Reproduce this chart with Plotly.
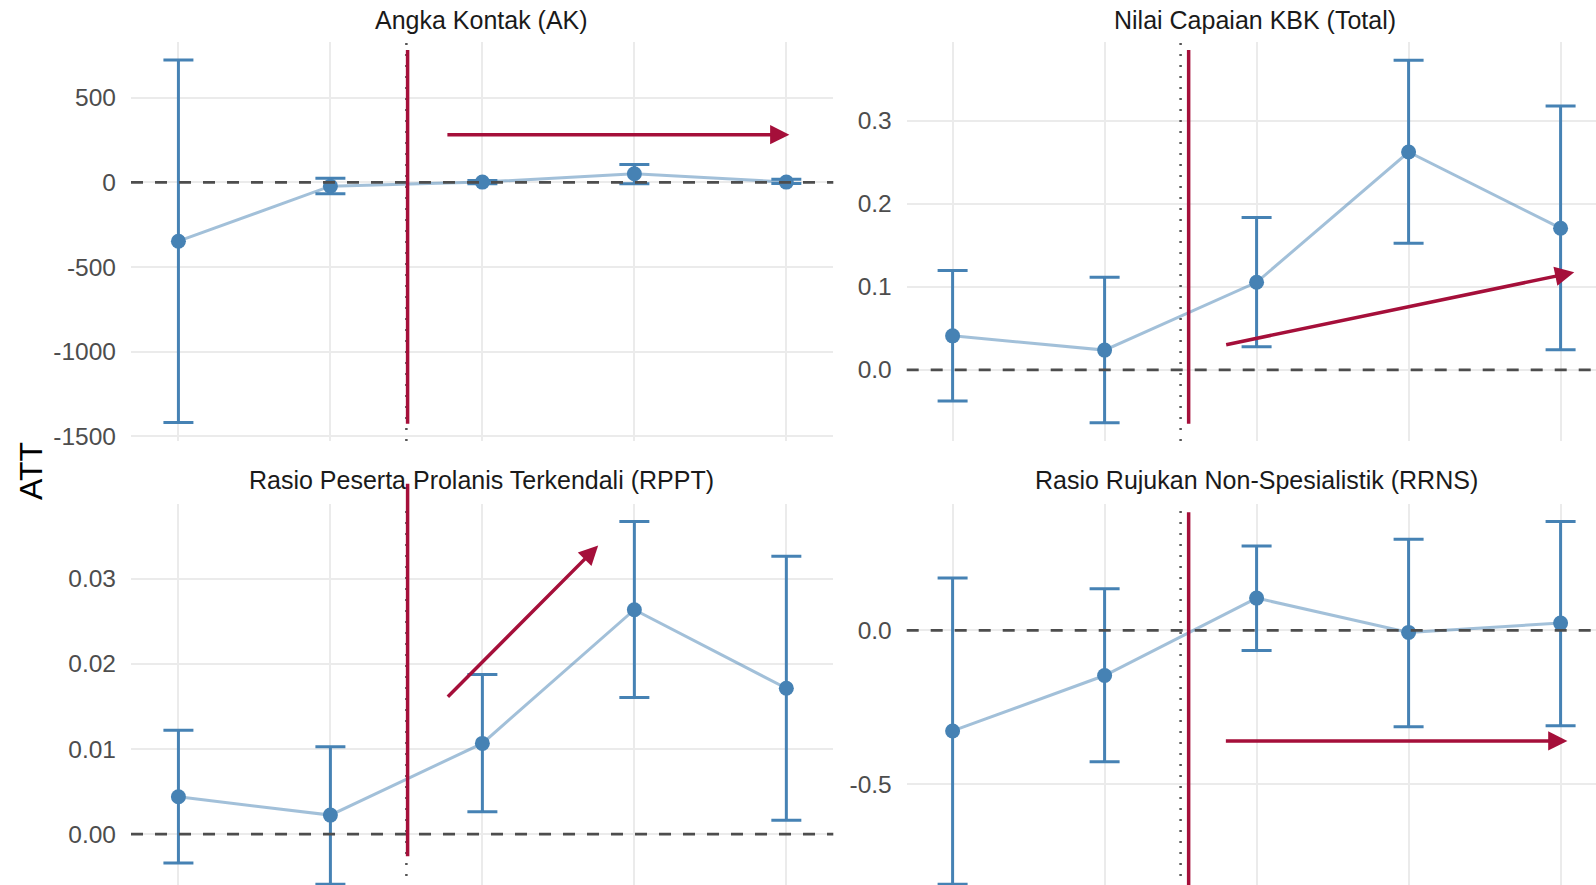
import plotly.graph_objects as go

# ---------------- data ----------------
periods = [1, 2, 3, 4, 5]

titles = [
    "Angka Kontak (AK)",
    "Nilai Capaian KBK (Total)",
    "Rasio Peserta Prolanis Terkendali (RPPT)",
    "Rasio Rujukan Non-Spesialistik (RRNS)",
]

ak_att = [-347, -22, 2, 51, 2]
ak_lo = [-1418, -67, -8, -8, -6]
ak_hi = [722, 25, 12, 106, 18]

kbk_att = [0.041, 0.0238, 0.1055, 0.2625, 0.1707]
kbk_lo = [-0.0374, -0.0636, 0.0278, 0.1525, 0.0242]
kbk_hi = [0.1196, 0.1115, 0.1836, 0.3732, 0.318]

rppt_att = [0.00439, 0.00224, 0.01066, 0.02635, 0.01713]
rppt_lo = [-0.00338, -0.00588, 0.00262, 0.01604, 0.00165]
rppt_hi = [0.01219, 0.01027, 0.01874, 0.0367, 0.03262]

rrns_att = [-0.3264, -0.1464, 0.105, -0.0065, 0.0238]
rrns_lo = [-0.824, -0.4263, -0.0651, -0.3124, -0.3091]
rrns_hi = [0.170, 0.1356, 0.2744, 0.2961, 0.3537]

tick_vals = [
    [-1500, -1000, -500, 0, 500],
    [0.0, 0.1, 0.2, 0.3],
    [0.00, 0.01, 0.02, 0.03],
    [-0.5, 0.0],
]
tick_text = [
    ["-1500", "-1000", "-500", "0", "500"],
    ["0.0", "0.1", "0.2", "0.3"],
    ["0.00", "0.01", "0.02", "0.03"],
    ["-0.5", "0.0"],
]

# arrows (tail x, tail y, head x, head y) in data units
arrows = [
    (2.76, 282, 5.02, 282),
    (2.79, 0.030, 5.09, 0.1175),
    (2.763, 0.01595, 3.762, 0.03388),
    (2.788, -0.359, 5.045, -0.359),
]

treat_x = 2.5
red_x = [2.508, 2.553, 2.508, 2.553]

# ---------------- layout geometry ----------------
W = 1596
REF_H = 885           # reference picture height (positions below are in its pixels)
H = 896               # rendered height (the capture compresses slightly vertically)
def px_x(p):
    return p / W
def px_y(p):
    return 1 - p / REF_H

xdom = [[px_x(131), px_x(833.3)], [px_x(906.7), 1.0]]
ydom = [[px_y(440), px_y(41.7)], [0.0, px_y(503.3)]]
yranges = [[-1526.6, 830.2], [-0.0857, 0.3953], [-0.0062, 0.03871], [-0.833, 0.409]]
xranges = [[0.688, 5.309], [0.698, 5.233], [0.688, 5.309], [0.698, 5.233]]
title_pos = [(481.7, 20), (1255.4, 20), (481.7, 479.3), (1256, 479.3)]
red_span = [(50, 422.7), (50, 422.7), (482.7, 854.3), (511, 885)]

BLUE = "#4682B4"
RED = "#A50F3A"
GRID = "#EBEBEB"
FONT = "Liberation Sans, Arial, Helvetica, sans-serif"

series = [
    (ak_att, ak_lo, ak_hi),
    (kbk_att, kbk_lo, kbk_hi),
    (rppt_att, rppt_lo, rppt_hi),
    (rrns_att, rrns_lo, rrns_hi),
]

fig = go.Figure()
shapes = []
annotations = []

for i, (att, lo, hi) in enumerate(series):
    n = i + 1
    xa = "x" if n == 1 else f"x{n}"
    ya = "y" if n == 1 else f"y{n}"
    col = i % 2
    row = i // 2

    # connecting line
    fig.add_trace(go.Scatter(
        x=periods, y=att, mode="lines", xaxis=xa, yaxis=ya,
        line=dict(color="rgba(70,130,180,0.5)", width=3),
        hoverinfo="skip", showlegend=False))
    # error bars + points
    fig.add_trace(go.Scatter(
        x=periods, y=att, mode="markers", xaxis=xa, yaxis=ya,
        marker=dict(color=BLUE, size=15),
        error_y=dict(type="data", symmetric=False,
                     array=[h - a for h, a in zip(hi, att)],
                     arrayminus=[a - l for a, l in zip(att, lo)],
                     color=BLUE, thickness=3, width=15),
        showlegend=False))

    axis_x = dict(domain=xdom[col], range=xranges[i], showgrid=True,
                  gridcolor=GRID, gridwidth=2, tickvals=periods,
                  showticklabels=False, zeroline=False, showline=False,
                  ticks="", fixedrange=True, anchor=ya)
    axis_y = dict(domain=ydom[row], range=yranges[i], showgrid=True,
                  gridcolor=GRID, gridwidth=2, tickvals=tick_vals[i],
                  ticktext=tick_text[i], zeroline=False, showline=False,
                  ticks="", ticklabelstandoff=14,
                  tickfont=dict(family=FONT, size=24.5, color="#4D4D4D"),
                  anchor=xa, fixedrange=True)
    fig.layout[("xaxis" if n == 1 else f"xaxis{n}")] = axis_x
    fig.layout[("yaxis" if n == 1 else f"yaxis{n}")] = axis_y

    # zero dashed line
    shapes.append(dict(type="line", xref=f"{xa} domain", yref=ya,
                       x0=0, x1=1, y0=0, y1=0,
                       line=dict(color="#4D4D4D", width=2.7, dash="12px,12px"),
                       layer="above"))
    # treatment dotted line
    shapes.append(dict(type="line", xref=xa, yref=f"{ya} domain",
                       x0=treat_x, x1=treat_x, y0=0, y1=1,
                       line=dict(color="#555555", width=2.5, dash="2px,9px"),
                       layer="above"))
    # red vertical marker
    y0p, y1p = red_span[i]
    shapes.append(dict(type="line", xref=xa, yref="paper",
                       x0=red_x[i], x1=red_x[i], y0=px_y(y1p), y1=px_y(y0p),
                       line=dict(color=RED, width=3.5), layer="above"))
    # arrow
    tx, ty, hx, hy = arrows[i]
    annotations.append(dict(x=hx, y=hy, ax=tx, ay=ty, xref=xa, yref=ya,
                            axref=xa, ayref=ya, text="", showarrow=True,
                            arrowhead=2, arrowsize=1.1, arrowwidth=3.5,
                            arrowcolor=RED, standoff=0, startstandoff=0))
    # panel title
    tx_p, ty_p = title_pos[i]
    annotations.append(dict(x=px_x(tx_p), y=px_y(ty_p), xref="paper", yref="paper",
                            text=titles[i], showarrow=False,
                            xanchor="center", yanchor="middle",
                            font=dict(family=FONT, size=25, color="#1A1A1A")))

annotations.append(dict(x=px_x(31), y=px_y(470), xref="paper", yref="paper",
                        text="ATT", showarrow=False, textangle=-90,
                        xanchor="center", yanchor="middle",
                        font=dict(family=FONT, size=32, color="#000000")))

fig.update_layout(
    width=W, height=H,
    margin=dict(l=0, r=0, t=0, b=0),
    paper_bgcolor="white", plot_bgcolor="white",
    shapes=shapes, annotations=annotations,
    showlegend=False,
)

# remove the default page margin so the figure fills the window exactly
fig.write_html(
    "out.html",
    config={"displayModeBar": False},
    post_script="document.body.style.margin='0';document.body.style.overflow='hidden';",
)
